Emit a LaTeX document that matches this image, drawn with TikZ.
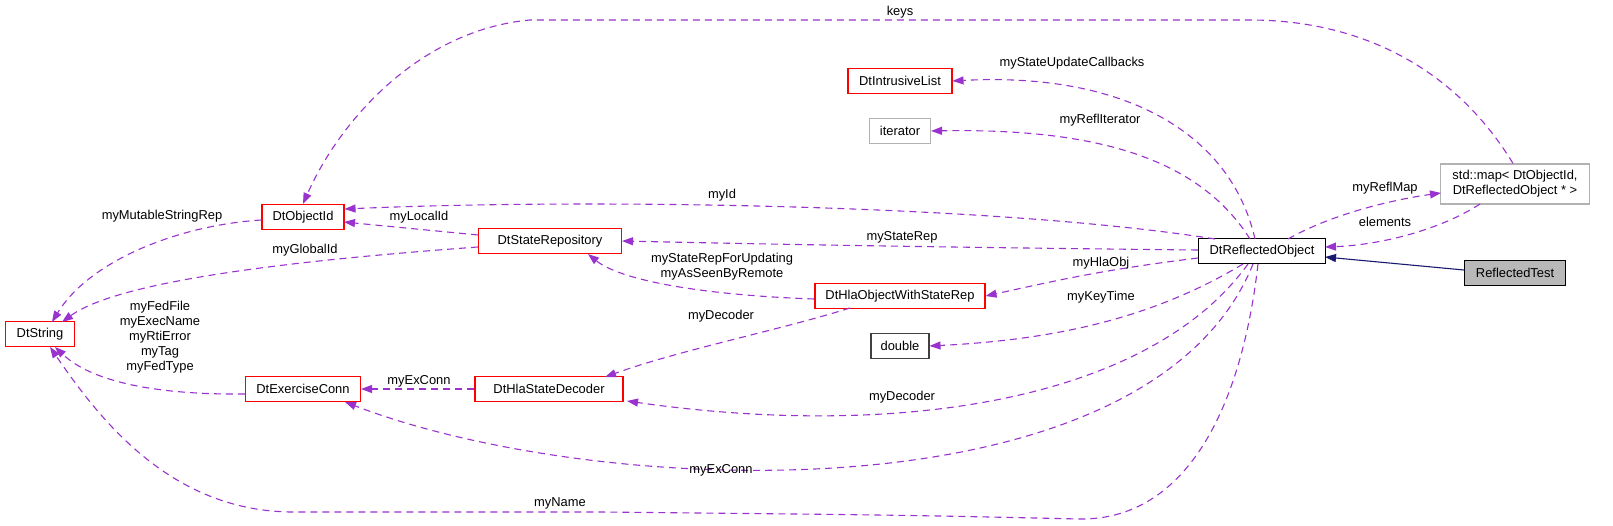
\documentclass[tikz,border=0pt]{standalone}
\usepackage{fontspec}
\setmainfont{Liberation Sans}
\usetikzlibrary{arrows.meta}
\definecolor{edgep}{HTML}{9A32CD}
\definecolor{inh}{HTML}{191970}
\begin{document}
\begin{tikzpicture}[x=1pt,y=-1pt,
  font=\fontsize{12.9}{14}\selectfont,
  cls/.style={draw=red,line width=1.1pt,fill=white,minimum height=25pt,inner sep=0pt,anchor=center},
  ext/.style={draw=gray!60,line width=1.1pt,fill=white,minimum height=25pt,inner sep=0pt},
  dep/.style={draw=edgep,line width=1.1pt,dash pattern=on 7pt off 5pt,-{Triangle[length=11pt,width=8pt,fill=edgep]}},
  lab/.style={inner sep=0pt,align=center,font=\fontsize{12.9}{15}\selectfont}]
\useasboundingbox (0,0) rectangle (1613,526);
% nodes
\node[cls,minimum width=69pt] (str) at (40,334) {DtString};
\node[cls,minimum width=82pt] (oid) at (303,217) {DtObjectId};
\node[cls,minimum width=104pt] (ilist) at (900,81) {DtIntrusiveList};
\node[ext,minimum width=61pt] (iter) at (900,131) {iterator};
\node[cls,minimum width=143pt] (srep) at (550,241) {DtStateRepository};
\node[cls,minimum width=170pt] (hla) at (900,296) {DtHlaObjectWithStateRep};
\node[draw=black!75,line width=1.1pt,minimum width=58pt,minimum height=25pt,inner sep=0pt] (dbl) at (900,346) {double};
\node[cls,minimum width=148pt] (dec) at (549,389) {DtHlaStateDecoder};
\node[cls,minimum width=115pt] (exc) at (303,389) {DtExerciseConn};
\node[draw=black,line width=1.1pt,fill=white,minimum width=127pt,minimum height=25pt,inner sep=0pt] (ro) at (1262,251) {DtReflectedObject};
\node[ext,minimum width=149pt,minimum height=40pt,align=center,font=\fontsize{12.9}{15}\selectfont] (map) at (1515,184) {std::map\textless{} DtObjectId,\\ DtReflectedObject * \textgreater{}};
\node[draw=black,line width=1.1pt,fill=black!28,minimum width=101pt,minimum height=25pt,inner sep=0pt] (rt) at (1515,273) {ReflectedTest};
% coordinates on node borders
\coordinate (roT1) at (1215,239); \coordinate (roT2) at (1250,239); \coordinate (roT3) at (1255,239); \coordinate (roT4) at (1288,239);
\coordinate (roB1) at (1243,264); \coordinate (roB2) at (1248,264); \coordinate (roB3) at (1253,264); \coordinate (roB4) at (1258,264);
% edges
\draw[dep] (map.north) ++(-2,0) .. controls (1450,60) and (1350,20) .. (1250,20) -- (530,20) .. controls (420,30) and (340,120) .. (oid.north);
\draw[dep] (roT3) .. controls (1230,130) and (1120,72) .. (ilist.east);
\draw[dep] (roT2) .. controls (1200,160) and (1100,128) .. (iter.east);
\draw[dep] (roT1) .. controls (1000,205) and (600,198) .. (oid.north east |- 0,209);
\draw[dep] (ro.west) ++(0,-1) .. controls (1000,248) and (800,245) .. (srep.east);
\draw[dep] (ro.west) ++(0,7) .. controls (1100,270) and (1050,282) .. (hla.east);
\draw[dep] (roB1) .. controls (1150,320) and (1050,340) .. (dbl.east);
\draw[dep] (roB2) .. controls (1150,400) and (900,440) .. (627,401);
\draw[dep] (roB3) .. controls (1150,520) and (600,500) .. (345,402);
\draw[dep] (roB4) .. controls (1240,420) and (1180,520) .. (1080,519) .. controls (900,515) .. (600,512) -- (290,512) .. controls (170,510) and (100,420) .. (50,347);
\draw[dep] (oid.west) ++(0,3) .. controls (180,225) and (90,260) .. (52,322);
\draw[dep] (srep.west) ++(0,6) .. controls (300,260) and (120,280) .. (62,322);
\draw[dep] (srep.west) ++(0,-6) -- (344,222);
\draw[dep] (hla.west) ++(0,3) .. controls (700,295) and (620,280) .. (588,254);
\draw[dep] (850,308) .. controls (780,330) and (680,350) .. (605,377);
\draw[dep] (dec.west) -- (exc.east);
\draw[dep] (exc.west) ++(0,5) .. controls (150,395) and (90,380) .. (55,347);
\draw[dep] (roT4) .. controls (1330,215) and (1390,200) .. (1441,193);
\draw[dep] (1480,204) .. controls (1440,230) and (1380,245) .. (1325,247);
\draw[inh,line width=1.1pt,-{Triangle[length=11pt,width=8pt,fill=inh]}] (rt.west) ++(0,-3) -- (1325,257);
% labels
\node[lab] (lkeys) at (900,12) {keys};
\node[lab] (lsuc) at (1072,63) {myStateUpdateCallbacks};
\node[lab] (lri) at (1100,120) {myReflIterator};
\node[lab] (lid) at (722,195) {myId};
\node[lab] (lsr) at (902,237) {myStateRep};
\node[lab] (lsru) at (722,267) {myStateRepForUpdating\\myAsSeenByRemote};
\node[lab] (lho) at (1101,263) {myHlaObj};
\node[lab] (lkt) at (1101,297) {myKeyTime};
\node[lab] (ldec1) at (721,316) {myDecoder};
\node[lab] (ldec2) at (902,397) {myDecoder};
\node[lab] (lexc2) at (721,470) {myExConn};
\node[lab] (lname) at (560,503) {myName};
\node[lab] (lexc1) at (419,381) {myExConn};
\node[lab] (lmsr) at (162,216) {myMutableStringRep};
\node[lab] (lli) at (419,217) {myLocalId};
\node[lab] (lgi) at (305,250) {myGlobalId};
\node[lab] (lfed) at (160,337) {myFedFile\\myExecName\\myRtiError\\myTag\\myFedType};
\node[lab] (lrm) at (1385,188) {myReflMap};
\node[lab] (lel) at (1385,222) {elements};
\end{tikzpicture}
\end{document}
